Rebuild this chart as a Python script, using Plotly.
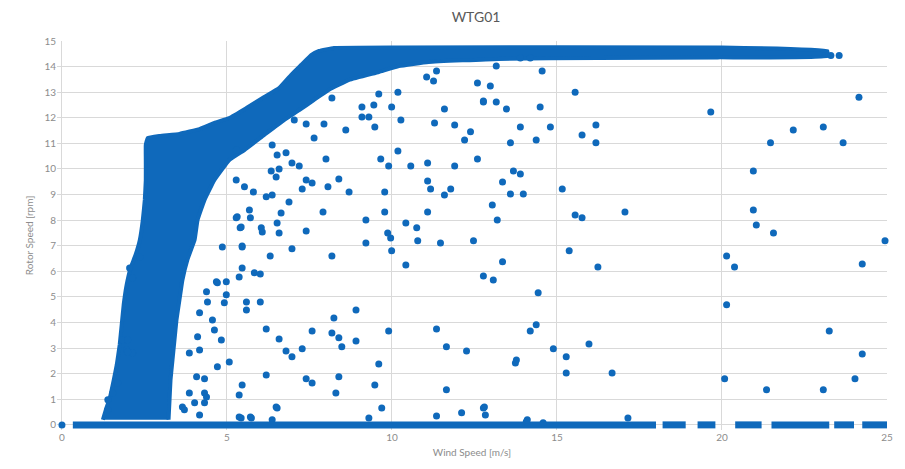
import plotly.graph_objects as go

# ---- Data ----
# Outline of the dense cloud of points (wind speed [m/s], rotor speed [rpm])
band_x = [1.24, 1.33, 1.45, 1.57, 1.66, 1.75, 1.81, 1.87, 1.96, 2.08, 2.23, 2.36, 2.45, 2.51,
          2.54, 2.54, 2.54, 2.60, 2.96, 3.56, 4.17, 4.62, 5.07, 5.59, 6.13, 6.58, 6.94, 7.28,
          7.55, 7.79, 8.24, 10.21, 19.87, 23.19, 23.19, 19.87, 16.24, 13.22, 11.11, 10.21,
          9.60, 8.70, 8.09, 7.64, 7.19, 6.73, 6.13, 5.53, 5.07, 4.62, 4.32, 4.11, 4.02, 3.80,
          3.65, 3.56, 3.47, 3.41, 3.35, 3.29, 3.26, 3.23]
band_y = [0.20, 0.59, 1.05, 1.76, 2.34, 3.13, 3.91, 4.69, 5.47, 6.13, 6.64, 7.23, 8.01, 8.79,
          9.57, 10.35, 10.94, 11.21, 11.29, 11.37, 11.56, 11.80, 11.99, 12.38, 12.81, 13.16,
          13.67, 14.10, 14.45, 14.61, 14.73, 14.75, 14.75, 14.61, 14.41, 14.36, 14.34, 14.30,
          14.18, 14.02, 13.79, 13.48, 13.09, 12.70, 12.30, 11.91, 11.33, 10.74, 10.35, 9.57,
          8.79, 8.01, 7.23, 6.45, 5.66, 4.88, 4.10, 3.32, 2.54, 1.76, 0.98, 0.20]

# Scattered individual points
pts_x = [9.09, 9.45, 9.99, 11.59, 12.77, 13.16, 13.47, 14.49, 9.09, 9.30, 9.48, 10.27, 11.29,
         11.90, 12.38, 12.20, 13.89, 13.59, 14.37, 8.60, 7.64, 7.94, 7.40, 7.04, 10.18, 9.66,
         9.90, 10.57, 11.08, 11.90, 12.59, 13.68, 13.89, 8.00, 6.37, 6.52, 6.79, 6.97, 7.19,
         6.34, 6.58, 6.49, 8.39, 7.40, 7.58, 7.28, 8.06, 8.70, 9.78, 11.08, 11.17, 11.59,
         11.78, 13.35, 13.59, 13.98, 5.80, 6.19, 6.37, 6.88, 6.64, 6.52, 7.91, 9.78, 11.08,
         13.04, 13.19, 5.68, 5.71, 5.31, 5.40, 6.04, 6.07, 6.58, 7.40, 9.21, 10.42, 10.75,
         9.87, 9.96, 9.21, 9.99, 10.78, 11.47, 12.47, 13.35, 5.46, 6.97, 8.18, 6.31, 10.42,
         5.46, 5.37, 5.83, 6.01, 12.77, 13.07, 4.98, 4.68, 4.98, 4.92, 5.59, 5.59, 6.01, 8.91,
         14.43, 8.24, 6.19, 7.58, 8.18, 8.39, 8.48, 8.91, 9.90, 11.35, 11.65, 12.26, 14.19,
         14.37, 6.58, 6.79, 6.97, 7.28, 5.07, 4.71, 9.60, 13.74, 13.77, 6.19, 7.40, 7.58, 8.39,
         5.46, 5.37, 8.30, 9.48, 11.65, 4.32, 4.32, 4.32, 6.52, 9.69, 12.77, 11.35, 12.11,
         5.43, 5.74, 6.37, 9.30, 14.07,
         19.66, 14.80, 16.18, 15.76, 16.18, 22.16, 23.07, 21.47, 23.67, 24.15, 20.95, 15.16,
         15.55, 15.76, 17.06, 20.95, 21.04, 21.56, 24.94, 15.37, 16.24, 20.14, 20.38, 24.25,
         20.14, 23.25, 24.25, 14.89, 15.28, 15.28, 15.97, 16.67, 20.08, 21.35, 23.07, 24.03,
         17.15,
         13.16, 14.55, 15.55, 12.59, 12.98, 12.77, 9.60, 10.18, 11.35, 11.26, 11.05, 13.89,
         14.19, 8.18,
         3.65, 4.02, 4.17, 5.37, 5.71, 6.49, 12.80, 12.83, 14.10, 14.58,
         5.28, 5.28, 5.53, 5.28, 5.43, 4.86, 5.46, 4.71, 4.38, 4.41, 4.17, 4.56, 4.62, 4.83,
         4.11, 3.86, 4.17, 4.08, 3.86, 4.38, 3.71,
         2.05, 2.14, 2.36, 1.84, 1.96, 2.14, 1.99, 1.99, 1.69, 1.54, 1.39, 1.39,
         23.30, 23.55, 0.00]
pts_y = [12.42, 12.50, 12.42, 12.34, 12.62, 12.62, 12.34, 12.42, 12.03, 12.03, 11.64, 11.91,
         11.80, 11.72, 11.45, 11.13, 11.64, 11.02, 11.13, 11.52, 11.21, 11.76, 11.76, 11.91,
         10.70, 10.39, 10.12, 10.12, 10.23, 10.12, 10.39, 9.92, 9.80, 10.39, 10.94, 10.55,
         10.63, 10.23, 10.12, 9.92, 10.00, 9.69, 9.61, 9.57, 9.45, 9.22, 9.30, 9.10, 9.10,
         9.53, 9.22, 8.98, 9.22, 9.49, 9.02, 9.02, 9.10, 8.91, 8.98, 8.71, 8.28, 7.89, 8.32,
         8.32, 8.32, 8.59, 8.01, 8.40, 8.09, 8.13, 7.70, 7.70, 7.54, 7.50, 7.58, 8.01, 7.89,
         7.70, 7.50, 7.30, 7.11, 6.80, 7.19, 7.11, 7.19, 6.37, 6.99, 6.88, 6.60, 6.60, 6.25,
         6.13, 5.78, 5.94, 5.90, 5.82, 5.66, 5.59, 5.59, 5.08, 4.77, 4.80, 4.49, 4.80, 4.49,
         5.16, 4.18, 3.75, 3.67, 3.59, 3.40, 3.05, 3.28, 3.67, 3.75, 3.05, 2.89, 3.67, 3.91,
         3.36, 2.89, 2.66, 2.97, 2.46, 2.27, 2.38, 2.42, 2.54, 1.95, 1.80, 1.64, 1.88, 1.56,
         1.17, 1.25, 1.56, 1.37, 1.80, 1.25, 0.86, 0.66, 0.66, 0.66, 0.35, 0.47, 0.27, 0.27,
         0.20, 0.27, 0.12,
         12.23, 11.64, 11.72, 11.33, 11.02, 11.52, 11.64, 11.02, 11.02, 12.80, 9.92, 9.22,
         8.20, 8.09, 8.32, 8.40, 7.81, 7.50, 7.19, 6.80, 6.17, 6.60, 6.17, 6.29, 4.69, 3.67,
         2.77, 2.97, 2.66, 2.03, 3.16, 2.03, 1.80, 1.37, 1.37, 1.80, 0.27,
         14.02, 13.83, 13.00, 13.36, 13.24, 12.66, 12.93, 13.00, 13.83, 13.44, 13.59, 14.34,
         14.34, 12.77,
         0.70, 0.86, 0.39, 0.31, 0.31, 0.70, 0.70, 0.39, 0.20, 0.08,
         10.74, 9.57, 9.30, 8.09, 7.73, 6.95, 6.95, 5.55, 5.20, 4.80, 4.38, 4.10, 3.71, 3.32,
         3.44, 2.81, 2.93, 1.88, 1.25, 1.09, 0.59,
         6.13, 5.74, 6.56, 3.32, 2.93, 2.81, 3.32, 2.85, 1.64, 1.25, 0.98, 0.59,
         14.43, 14.43, 0.00]

# Runs of points lying on 0 rpm (start, end wind speed)
zero_start = [0.33, 18.20, 19.26, 20.40, 21.50, 23.40, 24.25]
zero_end = [18.00, 18.90, 19.80, 21.20, 23.25, 24.00, 25.00]

x_ticks = [0, 5, 10, 15, 20, 25]
y_ticks = list(range(0, 16))

BLUE = "#0f69bb"

zx, zy = [], []
for s, e in zip(zero_start, zero_end):
    zx += [s, e, None]
    zy += [0, 0, None]

fig = go.Figure()
fig.add_trace(go.Scatter(x=band_x, y=band_y, mode="lines", fill="toself",
                         fillcolor=BLUE, line=dict(color=BLUE, width=4, shape="spline",
                                                   smoothing=0.3),
                         hoverinfo="skip", showlegend=False))
fig.add_trace(go.Scatter(x=zx, y=zy, mode="lines", line=dict(color=BLUE, width=7),
                         hoverinfo="skip", showlegend=False))
fig.add_trace(go.Scatter(x=pts_x, y=pts_y, mode="markers",
                         marker=dict(color=BLUE, size=7, line=dict(width=0)),
                         cliponaxis=False, showlegend=False))

FONT = "Lato, 'Liberation Sans', sans-serif"
fig.update_layout(
    width=905, height=469,
    margin=dict(l=57, r=15, t=41, b=39),
    paper_bgcolor="white", plot_bgcolor="white",
    title=dict(text="WTG01", x=0.526, xanchor="center", y=0.963, yanchor="middle",
               font=dict(family=FONT, size=14, color="#595959")),
    font=dict(family=FONT, color="#808080"),
    xaxis=dict(range=[-0.15, 25], tickvals=x_ticks, showgrid=True, gridcolor="#d9d9d9",
               gridwidth=1, zeroline=False, showline=False, ticks="",
               tickfont=dict(size=10, color="#8c8c8c"),
               title=dict(text="Wind Speed [m/s]", font=dict(size=10, color="#8c8c8c"),
                          standoff=6)),
    yaxis=dict(range=[-0.2, 15], tickvals=y_ticks, showgrid=True, gridcolor="#d9d9d9",
               gridwidth=1, zeroline=False, showline=False, ticks="",
               tickfont=dict(size=10, color="#8c8c8c"),
               title=dict(text="Rotor Speed [rpm]", font=dict(size=10, color="#8c8c8c"),
                          standoff=8)),
)

fig.write_html("out.html")
